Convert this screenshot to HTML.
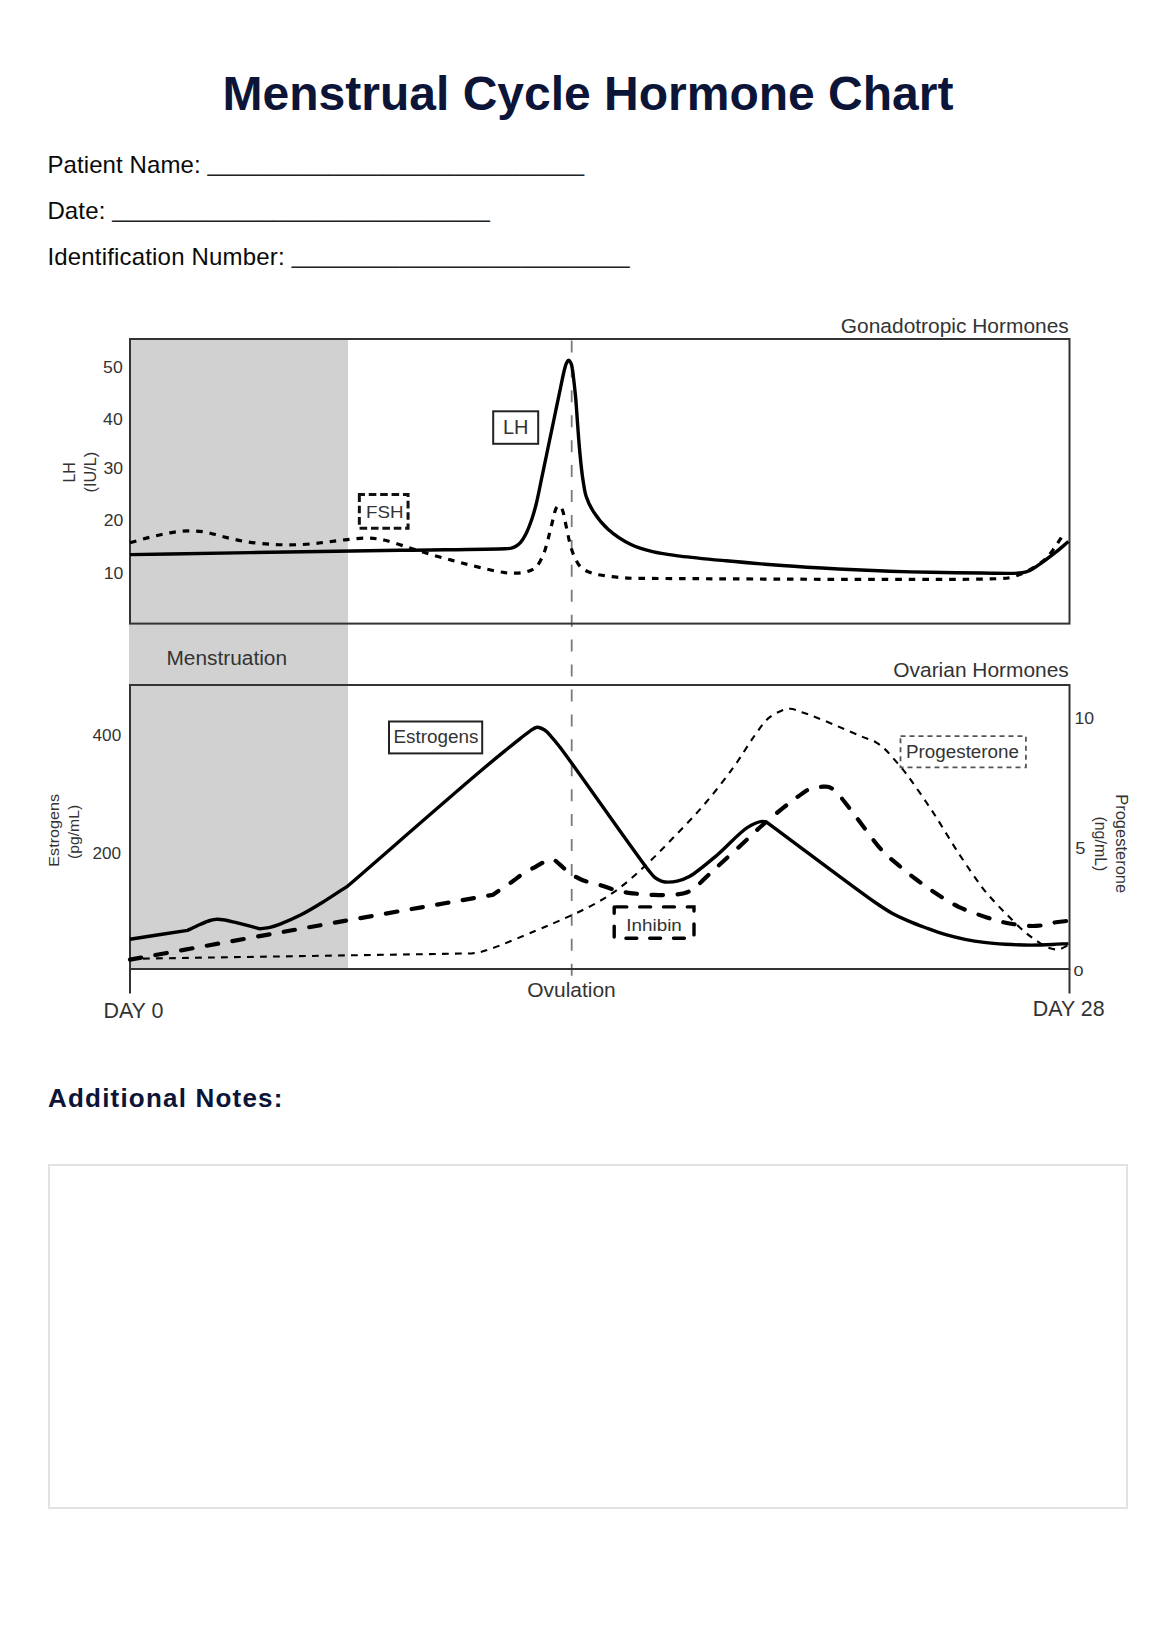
<!DOCTYPE html>
<html><head><meta charset="utf-8"><title>Menstrual Cycle Hormone Chart</title>
<style>
html,body{margin:0;padding:0;background:#fff;}
body{width:1176px;height:1630px;position:relative;overflow:hidden;font-family:"Liberation Sans",Arial,sans-serif;}
h1{position:absolute;left:0;width:1176px;top:70px;margin:0;text-align:center;font:bold 48px/1 "Liberation Sans",Arial,sans-serif;color:#0c1538;}
.f{position:absolute;left:47.4px;margin:0;font:24px/1 "Liberation Sans",Arial,sans-serif;color:#0a0a0a;white-space:nowrap;letter-spacing:0.14px;}
h2{position:absolute;left:48px;top:1084.5px;margin:0;font:bold 26px/1 "Liberation Sans",Arial,sans-serif;letter-spacing:1.2px;color:#0c1538;}
.notes{position:absolute;left:48px;top:1164px;width:1076px;height:341px;border:2px solid #e2e2e2;}
.u{position:relative;top:-2px;color:#222;}
svg{position:absolute;left:0;top:0;}
</style></head>
<body>
<h1>Menstrual Cycle Hormone Chart</h1>
<p class="f" style="top:153px;letter-spacing:0.1px">Patient Name: <span class="u">____________________________</span></p>
<p class="f" style="top:199px">Date: <span class="u">____________________________</span></p>
<p class="f" style="top:244.5px;letter-spacing:0.18px">Identification Number: <span class="u">_________________________</span></p>
<svg width="1176" height="1100" viewBox="0 0 1176 1100" font-family="Liberation Sans, Arial, sans-serif">
<rect x="129" y="339" width="219" height="630" fill="#d1d1d1"/>
<line x1="571.7" y1="340.45" x2="571.7" y2="976" stroke="#7a7a7a" stroke-width="1.8" stroke-dasharray="12 12.93"/>
<rect x="130" y="339" width="939.5" height="284.6" fill="none" stroke="#333" stroke-width="2"/>
<rect x="130" y="685" width="939.5" height="284" fill="none" stroke="#333" stroke-width="2"/>
<path d="M130,969V993.5M1069.5,969V993.5" stroke="#333" stroke-width="2"/>
<path d="M130.0,958.8 C244.0,957.0 358.0,955.2 472.0,953.4 C474.7,953.0 477.1,952.9 480.0,952.2 C483.8,951.3 487.2,950.1 492.6,948.2 C502.7,944.6 523.3,935.9 535.6,930.8 C544.9,926.9 551.4,924.2 560.0,920.4 C569.7,916.1 580.9,911.3 590.6,906.1 C599.9,901.1 608.3,896.2 617.1,889.8 C626.7,882.8 636.5,873.8 645.7,865.3 C654.9,856.8 663.1,848.2 672.2,838.8 C682.1,828.5 692.9,817.7 702.9,806.1 C713.4,793.9 724.5,779.6 733.5,767.3 C741.2,756.7 747.5,745.5 753.9,736.7 C758.9,729.7 763.2,722.8 768.2,718.4 C772.1,715.0 776.4,712.8 780.4,711.2 C783.7,709.8 786.8,708.7 790.2,708.8 C793.9,708.9 797.9,710.9 801.9,712.2 C806.3,713.6 810.6,715.2 815.7,717.2 C822.1,719.7 829.9,722.9 837.1,726.0 C844.6,729.2 853.2,733.0 860.1,735.9 C865.7,738.2 871.1,739.6 875.4,742.0 C879.0,744.0 881.7,746.2 884.6,748.9 C887.8,751.8 890.8,755.5 893.8,758.9 C896.9,762.4 900.2,766.1 903.0,769.6 C905.5,772.7 907.1,774.7 910.0,778.8 C915.5,786.4 925.3,800.6 933.1,812.4 C941.5,825.3 950.2,840.4 958.6,853.3 C966.4,865.1 975.9,879.1 981.7,886.8 C984.8,891.0 986.7,893.1 989.4,896.2 C992.1,899.3 995.0,902.4 997.9,905.5 C1000.9,908.7 1003.6,911.3 1007.2,914.9 C1012.0,919.7 1018.9,926.9 1024.2,931.4 C1028.4,935.0 1032.1,937.7 1036.1,940.4 C1040.0,943.0 1044.0,946.1 1048.0,947.6 C1051.6,948.9 1055.6,949.8 1059.1,949.3 C1062.4,948.8 1065.3,946.5 1068.4,945.1" fill="none" stroke="#000" stroke-width="2.1" stroke-dasharray="6.8 6.2"/>
<path d="M130.0,959.6 C202.7,946.5 282.7,931.9 348.0,920.3 C401.2,910.8 444.7,903.3 493.0,894.8 C495.5,893.0 497.7,891.5 500.6,889.5 C504.3,886.9 509.5,883.6 513.4,880.8 C516.9,878.3 519.5,876.0 523.1,873.7 C527.1,871.1 532.2,868.6 536.3,866.3 C539.9,864.3 543.5,862.1 546.5,860.9 C548.8,860.0 550.7,859.0 552.7,859.4 C555.1,859.9 557.3,862.5 559.8,864.5 C562.7,866.8 565.5,870.2 569.0,872.7 C572.9,875.4 577.4,878.0 582.2,880.0 C587.4,882.1 593.2,883.0 599.1,884.8 C605.7,886.8 613.8,889.8 620.0,891.3 C624.9,892.4 628.4,892.8 633.3,893.4 C639.4,894.1 646.9,894.7 653.7,894.9 C660.5,895.1 668.1,895.3 674.1,894.7 C679.0,894.2 683.2,894.0 687.3,892.3 C691.5,890.5 695.3,887.1 699.0,884.0 C702.8,880.8 706.2,877.1 710.0,873.5 C714.0,869.7 717.8,866.3 722.5,862.0 C728.4,856.6 735.9,849.9 742.5,843.8 C748.9,837.9 754.9,831.8 761.5,826.0 C768.2,820.0 776.0,813.6 782.5,808.4 C788.0,804.0 792.8,800.2 797.8,796.7 C802.4,793.5 806.9,789.8 811.4,788.2 C815.2,786.8 819.7,786.9 822.9,786.7 C825.2,786.6 826.9,786.3 828.8,786.9 C831.1,787.6 833.1,789.2 835.5,791.3 C839.3,794.6 843.7,800.9 848.0,806.3 C852.9,812.5 857.9,819.5 863.3,826.5 C869.2,834.2 875.6,843.6 882.0,850.4 C887.5,856.3 893.4,860.8 899.0,865.6 C904.4,870.1 909.4,874.3 915.0,878.5 C920.8,882.9 926.5,887.1 933.1,891.5 C940.8,896.5 949.7,902.5 958.6,906.8 C967.6,911.1 978.9,914.8 986.8,917.4 C992.4,919.3 996.6,920.5 1001.3,921.7 C1005.6,922.8 1009.6,923.5 1014.0,924.2 C1018.7,924.9 1023.9,925.7 1028.5,925.9 C1032.7,926.1 1036.5,926.0 1040.4,925.5 C1044.4,925.0 1048.1,923.7 1052.3,922.9 C1057.1,922.1 1062.5,921.5 1067.6,920.8" fill="none" stroke="#000" stroke-width="4.2" stroke-linecap="round" stroke-dasharray="11.5 14.5"/>
<path d="M130.0,939.2 C149.2,936.3 168.4,933.3 187.6,930.4 C191.7,928.4 196.1,926.2 200.0,924.5 C203.5,923.0 206.9,921.4 210.0,920.5 C212.5,919.8 214.5,919.4 216.9,919.3 C219.5,919.2 222.2,919.6 225.0,920.0 C228.1,920.5 230.6,921.2 234.5,922.2 C241.0,923.8 251.5,926.6 260.0,928.8 C263.3,928.3 266.7,928.1 270.0,927.3 C273.2,926.6 275.7,925.7 279.5,924.3 C285.3,922.1 293.8,918.5 301.0,914.8 C308.8,910.8 316.7,905.9 324.5,901.1 C332.4,896.2 340.2,890.9 348.0,885.8 C392.0,847.7 452.4,794.8 480.0,771.5 C492.4,761.0 499.7,755.1 507.2,749.0 C512.5,744.7 516.7,741.3 520.8,738.1 C524.1,735.5 526.8,733.2 529.7,731.3 C532.2,729.7 534.6,727.4 537.1,727.2 C539.6,727.0 542.3,728.5 544.6,730.0 C547.1,731.6 549.1,734.2 551.4,736.8 C554.2,739.8 555.8,741.7 560.0,747.2 C574.1,765.5 634.9,853.1 648.0,869.6 C651.5,874.0 652.5,875.6 655.0,877.6 C657.2,879.3 659.7,880.6 662.0,881.3 C664.0,881.9 665.8,882.1 668.0,882.1 C670.7,882.1 673.9,881.9 677.1,881.1 C680.9,880.2 684.7,879.1 689.4,876.5 C697.0,872.3 707.7,863.0 717.0,855.2 C727.1,846.7 738.9,832.9 747.6,827.4 C753.0,824.0 758.4,821.8 762.0,821.4 C764.0,821.2 765.3,822.0 766.9,822.3 C803.3,849.2 855.7,889.1 876.0,903.0 C883.6,908.2 886.6,910.2 892.0,913.2 C897.1,916.0 902.2,918.3 907.6,920.6 C913.2,923.0 918.9,925.2 925.0,927.5 C931.6,929.9 939.0,932.7 945.8,934.7 C952.3,936.6 958.6,938.0 965.0,939.3 C971.4,940.6 977.5,941.6 984.1,942.4 C991.0,943.3 998.0,943.8 1005.5,944.2 C1013.6,944.7 1022.9,945.1 1031.0,945.1 C1038.4,945.1 1045.7,944.8 1052.3,944.5 C1058.0,944.3 1063.0,943.9 1068.4,943.6" fill="none" stroke="#000" stroke-width="3.4" stroke-linejoin="round"/>
<path d="M130.0,542.7 C136.7,540.9 143.3,538.9 150.0,537.2 C156.6,535.6 163.4,533.9 170.0,532.8 C176.3,531.8 182.6,531.0 188.6,530.9 C194.2,530.8 199.5,531.1 205.0,532.0 C210.7,532.9 216.1,535.0 222.3,536.5 C229.3,538.2 236.9,540.2 245.0,541.5 C254.3,543.0 265.2,544.0 275.0,544.5 C284.5,545.0 294.2,544.9 303.0,544.5 C310.8,544.1 317.8,543.1 325.0,542.3 C331.8,541.5 338.1,540.5 345.0,539.8 C352.4,539.0 360.9,537.8 368.0,538.0 C374.1,538.2 378.9,539.0 385.0,540.3 C392.4,541.9 401.4,545.3 409.2,547.7 C416.4,549.9 422.9,552.1 430.0,554.2 C437.3,556.4 445.3,558.5 452.3,560.4 C458.5,562.1 463.9,563.5 470.0,565.0 C476.4,566.6 483.5,568.5 489.7,569.8 C495.1,571.0 500.4,572.0 505.0,572.6 C508.7,573.0 511.7,573.2 515.0,573.2 C518.1,573.2 521.3,573.0 524.1,572.4 C526.6,571.9 528.9,571.2 531.0,570.2 C533.0,569.3 534.8,568.5 536.5,566.7 C539.0,564.0 541.6,558.7 543.4,554.5 C545.2,550.4 546.1,546.2 547.3,542.0 C548.5,537.8 549.4,533.7 550.5,529.5 C551.6,525.1 552.8,519.9 553.8,516.1 C554.6,513.2 555.0,510.3 556.0,508.5 C556.7,507.3 557.6,506.0 558.5,505.8 C559.3,505.7 560.3,506.3 561.0,507.0 C561.8,507.9 562.3,509.4 562.8,511.0 C563.5,513.0 563.9,515.4 564.5,518.2 C565.3,521.9 566.3,526.9 567.2,531.3 C568.2,535.7 569.0,540.1 570.2,544.4 C571.4,548.6 572.5,552.7 574.3,556.6 C576.1,560.5 578.1,564.8 581.2,567.6 C584.4,570.5 589.1,572.2 593.4,573.6 C597.7,575.0 602.4,575.3 607.0,576.0 C611.5,576.7 616.3,577.2 620.7,577.6 C624.9,578.0 628.1,578.1 633.0,578.3 C640.3,578.5 646.0,578.4 660.0,578.5 C709.8,578.7 965.5,580.5 1000.0,578.6 C1006.2,578.3 1007.5,578.2 1011.0,577.4 C1014.5,576.6 1017.6,575.4 1021.0,574.0 C1024.9,572.4 1029.1,570.3 1033.0,568.0 C1037.1,565.5 1041.5,562.7 1045.0,559.5 C1048.3,556.4 1050.7,553.1 1053.5,549.3 C1056.7,545.0 1059.8,539.8 1063.0,535.0" fill="none" stroke="#000" stroke-width="3.2" stroke-dasharray="6.6 6.9"/>
<path d="M130.0,554.6 C170.0,553.9 207.8,553.3 250.0,552.6 C297.2,551.8 354.4,551.0 400.0,550.3 C438.2,549.7 491.7,549.4 505.3,548.7 C508.6,548.5 509.6,548.6 511.4,548.2 C512.9,547.8 514.1,547.4 515.5,546.6 C517.2,545.6 519.0,544.2 520.6,542.4 C522.5,540.2 524.2,537.3 525.9,534.0 C528.0,529.9 530.1,524.3 531.8,519.3 C533.5,514.3 534.8,509.6 536.2,504.0 C537.9,497.2 539.4,489.1 541.0,481.5 C542.7,473.6 544.3,465.5 546.0,457.5 C547.7,449.5 549.3,441.5 551.0,433.5 C552.7,425.5 554.4,417.3 556.0,409.5 C557.5,402.1 559.1,394.7 560.5,388.0 C561.7,382.1 562.9,376.0 564.0,371.5 C564.8,368.3 565.4,365.3 566.4,363.3 C567.1,362.0 567.8,360.2 568.6,360.2 C569.3,360.2 570.2,361.7 570.8,362.8 C571.6,364.4 572.0,366.7 572.4,369.0 C573.0,372.0 573.2,375.5 573.7,379.4 C574.3,384.3 574.9,390.0 575.5,396.0 C576.2,403.3 576.7,411.9 577.3,420.0 C577.9,428.2 578.5,437.0 579.2,445.0 C579.8,452.3 580.5,459.5 581.2,466.0 C581.8,471.7 582.4,476.8 583.3,482.0 C584.1,487.0 584.6,491.7 586.2,496.5 C587.9,501.7 590.3,506.8 593.6,511.9 C597.4,517.8 602.5,524.3 608.3,529.6 C614.6,535.2 622.8,540.6 630.4,544.3 C637.5,547.8 644.6,549.8 652.5,551.7 C661.1,553.8 669.6,554.7 680.0,556.1 C693.4,557.8 710.0,559.3 726.1,560.8 C743.9,562.5 763.6,564.1 782.3,565.5 C801.0,566.9 820.1,568.0 838.4,569.0 C856.0,569.9 873.8,570.6 890.0,571.2 C904.4,571.7 916.6,572.0 931.0,572.3 C947.1,572.6 966.0,572.9 982.0,573.0 C996.1,573.1 1013.8,574.0 1022.0,572.8 C1025.7,572.3 1027.2,571.8 1030.0,570.5 C1033.6,568.8 1037.6,565.7 1041.6,562.9 C1046.0,559.8 1050.7,556.2 1055.2,552.7 C1059.7,549.1 1064.1,545.2 1068.5,541.5" fill="none" stroke="#000" stroke-width="3.4" stroke-linejoin="round"/>
<rect x="493.2" y="411.3" width="45" height="32.5" fill="#fff" stroke="#222" stroke-width="2"/>
<rect x="359.35" y="494.5" width="48.7" height="33.8" fill="#fff" stroke="#111" stroke-width="3" stroke-dasharray="7.6 3.8" stroke-dashoffset="2"/>
<rect x="389" y="721.5" width="93.2" height="31.9" fill="#fff" stroke="#222" stroke-width="2"/>
<rect x="900.5" y="736.1" width="125.4" height="31.2" fill="#fff" stroke="#555" stroke-width="1.8" stroke-dasharray="5 4"/>
<rect x="614.2" y="906.9" width="79.8" height="31.3" fill="#fff" stroke="#000" stroke-width="3.4" stroke-linecap="round" stroke-dasharray="10.9 12.9" stroke-dashoffset="-1.7"/>
<text x="1068.8" y="332.7" font-size="19.3" text-anchor="end" textLength="228.0" lengthAdjust="spacingAndGlyphs" fill="#333">Gonadotropic Hormones</text>
<text x="1068.8" y="676.9" font-size="19.7" text-anchor="end" textLength="175.5" lengthAdjust="spacingAndGlyphs" fill="#333">Ovarian Hormones</text>
<text x="166.5" y="664.8" font-size="20.0" textLength="120.5" lengthAdjust="spacingAndGlyphs" fill="#333">Menstruation</text>
<text x="571.5" y="996.8" font-size="20.5" text-anchor="middle" textLength="88.5" lengthAdjust="spacingAndGlyphs" fill="#333">Ovulation</text>
<text x="103.4" y="1017.8" font-size="21.6" textLength="60.0" lengthAdjust="spacingAndGlyphs" fill="#333">DAY 0</text>
<text x="1032.8" y="1015.7" font-size="21.4" textLength="71.8" lengthAdjust="spacingAndGlyphs" fill="#333">DAY 28</text>
<text x="503.0" y="433.6" font-size="19.5" textLength="25.5" lengthAdjust="spacingAndGlyphs" fill="#333">LH</text>
<text x="366.0" y="518.4" font-size="17.0" textLength="37.5" lengthAdjust="spacingAndGlyphs" fill="#333">FSH</text>
<text x="393.5" y="743.4" font-size="17.5" textLength="85.0" lengthAdjust="spacingAndGlyphs" fill="#333">Estrogens</text>
<text x="906.0" y="757.6" font-size="17.5" textLength="113.0" lengthAdjust="spacingAndGlyphs" fill="#333">Progesterone</text>
<text x="626.3" y="930.8" font-size="17.0" textLength="55.5" lengthAdjust="spacingAndGlyphs" fill="#333">Inhibin</text>
<text x="122.7" y="372.8" font-size="16.0" text-anchor="end" textLength="19.6" lengthAdjust="spacingAndGlyphs" fill="#333">50</text>
<text x="122.7" y="425.4" font-size="16.0" text-anchor="end" textLength="19.6" lengthAdjust="spacingAndGlyphs" fill="#333">40</text>
<text x="123.0" y="473.7" font-size="16.0" text-anchor="end" textLength="19.6" lengthAdjust="spacingAndGlyphs" fill="#333">30</text>
<text x="123.3" y="526.4" font-size="16.0" text-anchor="end" textLength="19.6" lengthAdjust="spacingAndGlyphs" fill="#333">20</text>
<text x="123.3" y="579.0" font-size="16.0" text-anchor="end" textLength="19.6" lengthAdjust="spacingAndGlyphs" fill="#333">10</text>
<text x="121.2" y="740.8" font-size="16.0" text-anchor="end" textLength="28.6" lengthAdjust="spacingAndGlyphs" fill="#333">400</text>
<text x="121.0" y="859.1" font-size="16.0" text-anchor="end" textLength="28.6" lengthAdjust="spacingAndGlyphs" fill="#333">200</text>
<text x="1074.4" y="724.3" font-size="16.5" textLength="19.6" lengthAdjust="spacingAndGlyphs" fill="#333">10</text>
<text x="1075.3" y="853.9" font-size="16.5" textLength="10.2" lengthAdjust="spacingAndGlyphs" fill="#333">5</text>
<text x="1073.6" y="975.8" font-size="15.0" textLength="10.0" lengthAdjust="spacingAndGlyphs" fill="#333">0</text>
<g transform="translate(75.3,472.4) rotate(-90)"><text x="0.0" y="0.0" font-size="16.0" text-anchor="middle" fill="#333">LH</text></g>
<g transform="translate(96.2,472.2) rotate(-90)"><text x="0.0" y="0.0" font-size="16.0" text-anchor="middle" textLength="40.5" lengthAdjust="spacingAndGlyphs" fill="#333">(IU/L)</text></g>
<g transform="translate(59.05,830.3) rotate(-90)"><text x="0.0" y="0.0" font-size="15.5" text-anchor="middle" textLength="72.7" lengthAdjust="spacingAndGlyphs" fill="#333">Estrogens</text></g>
<g transform="translate(79.2,831.9) rotate(-90)"><text x="0.0" y="0.0" font-size="15.5" text-anchor="middle" textLength="54.0" lengthAdjust="spacingAndGlyphs" fill="#333">(pg/mL)</text></g>
<g transform="translate(1116.3,843.7) rotate(90)"><text x="0.0" y="0.0" font-size="16.3" text-anchor="middle" textLength="99.0" lengthAdjust="spacingAndGlyphs" fill="#333">Progesterone</text></g>
<g transform="translate(1094.5,843.9) rotate(90)"><text x="0.0" y="0.0" font-size="16.0" text-anchor="middle" textLength="55.0" lengthAdjust="spacingAndGlyphs" fill="#333">(ng/mL)</text></g>
</svg>
<h2>Additional Notes:</h2>
<div class="notes"></div>
</body></html>
